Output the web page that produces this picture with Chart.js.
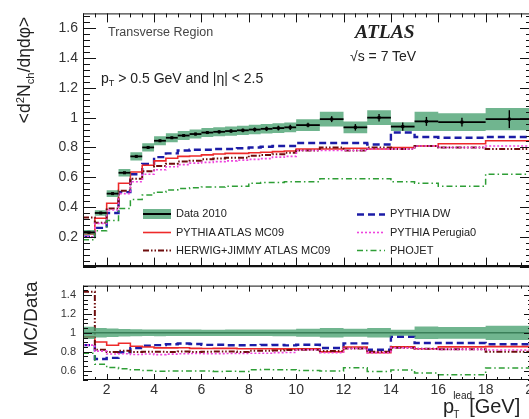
<!DOCTYPE html>
<html>
<head>
<meta charset="utf-8">
<script src="https://cdn.jsdelivr.net/npm/chart.js@4.4.1/dist/chart.umd.min.js"></script>
<style>
  html, body { margin: 0; padding: 0; background: #fff; overflow: hidden; width: 529px; height: 419px; }
  #wrap { position: relative; width: 529px; height: 419px; overflow: hidden; font-family: "Liberation Sans", Arial, sans-serif; color: #222; }
  canvas { position: absolute; left: 0; }
  #topChart { top: 0; }
  #ratioChart { top: 272px; }
  .t { position: absolute; white-space: nowrap; line-height: 1; }
  .rot { transform: translate(-50%, -50%) rotate(-90deg); transform-origin: center center; }
  .sb { font-size: 0.65em; vertical-align: -0.35em; }
  .sp { font-size: 0.65em; vertical-align: 0.55em; }
  .stack { display: inline-block; position: relative; width: 15px; height: 1em; }
  .stack span { position: absolute; left: -1px; font-size: 10px; }
</style>
</head>
<body>
<div id="wrap">
  <canvas id="topChart" width="560" height="280"></canvas>
  <canvas id="ratioChart" width="560" height="147"></canvas>

  <div class="t rot" style="left:26px; top:70px; font-size:17.5px;">&lt;d<span class="sp">2</span>N<span class="sb">ch</span>/dηdφ&gt;</div>
  <div class="t rot" style="left:30px; top:319px; font-size:19px;">MC/Data</div>
  <div class="t" style="left:443px; top:393px; font-size:20px;">p<span class="stack"><span style="top:-2px">lead</span><span style="top:17px">T</span></span>[GeV]</div>

  <div class="t" style="left:108px; top:26px; font-size:12.5px; color:#444;">Transverse Region</div>
  <div class="t" style="left:101px; top:71px; font-size:14px;">p<span class="sb">T</span> &gt; 0.5 GeV and |η| &lt; 2.5</div>
  <div class="t" style="left:355px; top:22px; font-size:19.5px; font-family:'Liberation Serif','Times New Roman',serif; font-weight:bold; font-style:italic;">ATLAS</div>
  <div class="t" style="left:350px; top:49px; font-size:14px;">√s = 7 TeV</div>

  <div class="t" style="left:176px; top:208px; font-size:11px;">Data 2010</div>
  <div class="t" style="left:176px; top:227px; font-size:11px;">PYTHIA ATLAS MC09</div>
  <div class="t" style="left:176px; top:245px; font-size:11px;">HERWIG+JIMMY ATLAS MC09</div>
  <div class="t" style="left:390px; top:208px; font-size:11px;">PYTHIA DW</div>
  <div class="t" style="left:390px; top:227px; font-size:11px;">PYTHIA Perugia0</div>
  <div class="t" style="left:390px; top:245px; font-size:11px;">PHOJET</div>
</div>

<script>
// Leading-track pT bin edges [GeV]
const binEdges = [1, 1.5, 2, 2.5, 3, 3.5, 4, 4.5, 5, 5.5, 6, 6.5, 7, 7.5, 8, 8.5, 9, 9.5, 10, 11, 12, 13, 14, 15, 16, 18, 20];

// Data 2010: transverse-region charged density, with stat and syst uncertainties
const data2010 = [0.23, 0.36, 0.49, 0.63, 0.74, 0.80, 0.845, 0.865, 0.88, 0.89, 0.90, 0.905, 0.91, 0.915, 0.92, 0.925, 0.93, 0.935, 0.95, 0.99, 0.935, 1.00, 0.94, 0.975, 0.97, 0.99];
const dataStat = [0.004, 0.004, 0.005, 0.005, 0.006, 0.006, 0.006, 0.007, 0.008, 0.009, 0.010, 0.011, 0.012, 0.013, 0.014, 0.015, 0.016, 0.018, 0.015, 0.020, 0.022, 0.025, 0.028, 0.030, 0.030, 0.060];
const dataSyst = [0.015, 0.018, 0.022, 0.025, 0.027, 0.028, 0.030, 0.030, 0.030, 0.030, 0.030, 0.030, 0.031, 0.031, 0.032, 0.032, 0.033, 0.033, 0.040, 0.050, 0.040, 0.050, 0.030, 0.065, 0.060, 0.075];

// Monte Carlo predictions
const pythiaMC09     = [0.22, 0.325, 0.425, 0.56, 0.635, 0.68, 0.71, 0.727, 0.74, 0.743, 0.75, 0.756, 0.76, 0.76, 0.764, 0.768, 0.772, 0.776, 0.79, 0.79, 0.795, 0.79, 0.80, 0.81, 0.825, 0.845];
const herwigJimmy    = [0.33, 0.295, 0.39, 0.51, 0.59, 0.64, 0.675, 0.69, 0.705, 0.71, 0.72, 0.725, 0.73, 0.73, 0.745, 0.75, 0.755, 0.765, 0.78, 0.80, 0.78, 0.80, 0.79, 0.81, 0.80, 0.79];
const pythiaDW       = [0.20, 0.26, 0.36, 0.50, 0.62, 0.69, 0.735, 0.76, 0.78, 0.785, 0.785, 0.79, 0.79, 0.795, 0.80, 0.805, 0.81, 0.81, 0.83, 0.83, 0.83, 0.82, 0.90, 0.87, 0.865, 0.87];
const pythiaPerugia0 = [0.20, 0.29, 0.38, 0.49, 0.57, 0.62, 0.65, 0.67, 0.685, 0.695, 0.70, 0.705, 0.71, 0.715, 0.72, 0.725, 0.735, 0.74, 0.78, 0.78, 0.78, 0.79, 0.79, 0.81, 0.80, 0.81];
const phojet         = [0.18, 0.24, 0.31, 0.39, 0.45, 0.48, 0.50, 0.515, 0.525, 0.53, 0.535, 0.535, 0.54, 0.54, 0.56, 0.565, 0.565, 0.57, 0.57, 0.59, 0.59, 0.59, 0.57, 0.56, 0.54, 0.62];

// Axis tick labels
const xTickLabels = [2, 4, 6, 8, 10, 12, 14, 16, 18, 20];
const yTopTickLabels = [0.2, 0.4, 0.6, 0.8, 1, 1.2, 1.4, 1.6];
const yRatioTickLabels = [0.6, 0.8, 1, 1.2, 1.4];

const FONT = "'Liberation Sans', Arial, sans-serif";
const BAND = 'rgba(72,160,112,0.78)';

const styles = {
  mc09:    { color: '#ee2a2a', width: 1.6, dash: [] },
  herwig:  { color: '#6e0c0c', width: 2,   dash: [6, 2, 1.5, 2, 1.5, 2] },
  dw:      { color: '#1c1ca6', width: 2.4, dash: [7, 4] },
  perugia: { color: '#ee44dd', width: 1.6, dash: [2, 2] },
  phojet:  { color: '#2e9e36', width: 1.5, dash: [6, 3, 1.5, 3] }
};

// Histogram points: one point per low edge, plus the last high edge
function hist(vals) {
  const pts = vals.map((v, i) => ({ x: binEdges[i], y: v }));
  pts.push({ x: binEdges[binEdges.length - 1], y: vals[vals.length - 1] });
  return pts;
}

function lineSet(vals, st) {
  return {
    data: hist(vals), stepped: 'before', fill: false, pointRadius: 0,
    borderColor: st.color, borderWidth: st.width, borderDash: st.dash, borderCapStyle: 'butt'
  };
}

function bandSets(lo, hi) {
  return [
    { data: hist(lo), stepped: 'before', fill: false, pointRadius: 0, borderColor: 'transparent', borderWidth: 0 },
    { data: hist(hi), stepped: 'before', fill: '-1', pointRadius: 0, borderColor: 'transparent', borderWidth: 0, backgroundColor: BAND }
  ];
}

// Frame with inward ticks on all four sides
function framePlugin(o) {
  return {
    id: 'frame',
    afterDraw(chart) {
      const { ctx, chartArea: a, scales: { x, y } } = chart;
      ctx.save();
      ctx.strokeStyle = '#111';
      ctx.lineWidth = 1;
      ctx.strokeRect(a.left + 0.5, a.top + 0.5, a.right - a.left - 1, a.bottom - a.top - 1);
      ctx.beginPath();
      const eps = 1e-6;
      for (let v = x.min; v <= x.max + eps; v += o.xMinor) {
        const px = Math.round(x.getPixelForValue(v)) + 0.5;
        const major = Math.abs(v / o.xMajor - Math.round(v / o.xMajor)) < eps;
        const L = major ? o.xMajorLen : o.xMinorLen;
        ctx.moveTo(px, a.bottom); ctx.lineTo(px, a.bottom - L);
        ctx.moveTo(px, a.top); ctx.lineTo(px, a.top + L);
      }
      for (let v = o.yStart; v <= y.max + eps; v += o.yMinor) {
        const py = Math.round(y.getPixelForValue(v)) + 0.5;
        const major = Math.abs(v / o.yMajor - Math.round(v / o.yMajor)) < eps;
        const L = major ? o.yMajorLen : o.yMinorLen;
        ctx.moveTo(a.left, py); ctx.lineTo(a.left + L, py);
        ctx.moveTo(a.right, py); ctx.lineTo(a.right - L, py);
      }
      ctx.stroke();
      if (o.thickBottom) {
        ctx.lineWidth = 2.2;
        ctx.beginPath();
        ctx.moveTo(a.left, a.bottom - 0.5); ctx.lineTo(a.right, a.bottom - 0.5);
        ctx.stroke();
      }
      ctx.restore();
    }
  };
}

// Data points: bin-width horizontal bar, stat error bar and marker
const dataPlugin = {
  id: 'dataMarks',
  afterDatasetsDraw(chart) {
    const { ctx, scales: { x, y } } = chart;
    ctx.save();
    ctx.strokeStyle = '#000';
    ctx.fillStyle = '#000';
    data2010.forEach((v, i) => {
      const x0 = x.getPixelForValue(binEdges[i]);
      const x1 = x.getPixelForValue(binEdges[i + 1]);
      const xc = (x0 + x1) / 2;
      const yc = y.getPixelForValue(v);
      ctx.lineWidth = 1.8;
      ctx.beginPath(); ctx.moveTo(x0, yc); ctx.lineTo(x1, yc); ctx.stroke();
      ctx.lineWidth = 1.4;
      ctx.beginPath();
      ctx.moveTo(xc, y.getPixelForValue(v - dataStat[i]));
      ctx.lineTo(xc, y.getPixelForValue(v + dataStat[i]));
      ctx.stroke();
      ctx.fillRect(xc - 1.5, yc - 1.5, 3, 3);
    });
    ctx.restore();
  }
};

// Legend symbols
const legendPlugin = {
  id: 'legendMarks',
  afterDraw(chart) {
    const ctx = chart.ctx;
    ctx.save();
    ctx.fillStyle = BAND;
    ctx.fillRect(143, 209, 28, 10);
    ctx.strokeStyle = '#000'; ctx.lineWidth = 2;
    ctx.beginPath(); ctx.moveTo(143, 214); ctx.lineTo(171, 214); ctx.stroke();
    const rows = [
      [143, 232, styles.mc09], [143, 250, styles.herwig],
      [357, 214, styles.dw], [357, 232, styles.perugia], [357, 250, styles.phojet]
    ];
    rows.forEach(([x0, yy, st]) => {
      ctx.strokeStyle = st.color; ctx.lineWidth = st.width; ctx.setLineDash(st.dash);
      ctx.beginPath(); ctx.moveTo(x0, yy + 0.5); ctx.lineTo(x0 + 28, yy + 0.5); ctx.stroke();
    });
    ctx.restore();
  }
};

const fmt = v => String(+(+v).toFixed(2));

// Upper panel: densities
new Chart(document.getElementById('topChart'), {
  type: 'line',
  data: {
    datasets: [
      ...bandSets(data2010.map((v, i) => v - dataSyst[i]), data2010.map((v, i) => v + dataSyst[i])),
      lineSet(phojet, styles.phojet),
      lineSet(pythiaPerugia0, styles.perugia),
      lineSet(herwigJimmy, styles.herwig),
      lineSet(pythiaMC09, styles.mc09),
      lineSet(pythiaDW, styles.dw)
    ]
  },
  options: {
    responsive: false, animation: false, events: [],
    plugins: { legend: { display: false }, tooltip: { enabled: false } },
    layout: { padding: { top: 10, right: 27, left: 0, bottom: 0 } },
    scales: {
      x: {
        type: 'linear', min: 1, max: 20,
        grid: { display: false, drawTicks: false }, border: { display: false },
        ticks: { display: false },
        afterFit(s) { s.height = 8; }
      },
      y: {
        type: 'linear', min: 0, max: 1.7,
        grid: { display: false, drawTicks: false }, border: { display: false },
        afterBuildTicks(s) { s.ticks = yTopTickLabels.map(v => ({ value: v })); },
        ticks: { font: { family: FONT, size: 14 }, color: '#333', padding: 5, callback: fmt },
        afterFit(s) { s.width = 83; }
      }
    }
  },
  plugins: [framePlugin({ xMinor: 0.5, xMajor: 2, xMajorLen: 9, xMinorLen: 4, yStart: 0, yMinor: 0.04, yMajor: 0.2, yMajorLen: 13, yMinorLen: 7, thickBottom: true }), dataPlugin, legendPlugin]
});

// Lower panel: MC / Data
const ratio = arr => arr.map((v, i) => v / data2010[i]);

new Chart(document.getElementById('ratioChart'), {
  type: 'line',
  data: {
    datasets: [
      ...bandSets(data2010.map((v, i) => (v - dataSyst[i]) / v), data2010.map((v, i) => (v + dataSyst[i]) / v)),
      lineSet(ratio(data2010), { color: '#111', width: 1.6, dash: [] }),
      lineSet(ratio(phojet), styles.phojet),
      lineSet(ratio(pythiaPerugia0), styles.perugia),
      lineSet(ratio(herwigJimmy), styles.herwig),
      lineSet(ratio(pythiaMC09), styles.mc09),
      lineSet(ratio(pythiaDW), styles.dw)
    ]
  },
  options: {
    responsive: false, animation: false, events: [],
    plugins: { legend: { display: false }, tooltip: { enabled: false } },
    layout: { padding: { top: 8, right: 27, left: 0, bottom: 0 } },
    scales: {
      x: {
        type: 'linear', min: 1, max: 20,
        grid: { display: false, drawTicks: false }, border: { display: false },
        afterBuildTicks(s) { s.ticks = xTickLabels.map(v => ({ value: v })); },
        ticks: { font: { family: FONT, size: 14 }, color: '#333', padding: 2, maxRotation: 0, autoSkip: false, callback: fmt },
        afterFit(s) { s.height = 39; }
      },
      y: {
        type: 'linear', min: 0.5, max: 1.5,
        grid: { display: false, drawTicks: false }, border: { display: false },
        afterBuildTicks(s) { s.ticks = yRatioTickLabels.map(v => ({ value: v })); },
        ticks: { font: { family: FONT, size: 11 }, color: '#333', padding: 7, callback: fmt },
        afterFit(s) { s.width = 83; }
      }
    }
  },
  plugins: [framePlugin({ xMinor: 0.5, xMajor: 2, xMajorLen: 6, xMinorLen: 3, yStart: 0.5, yMinor: 0.05, yMajor: 0.2, yMajorLen: 9, yMinorLen: 5, thickBottom: false })]
});
</script>
</body>
</html>
